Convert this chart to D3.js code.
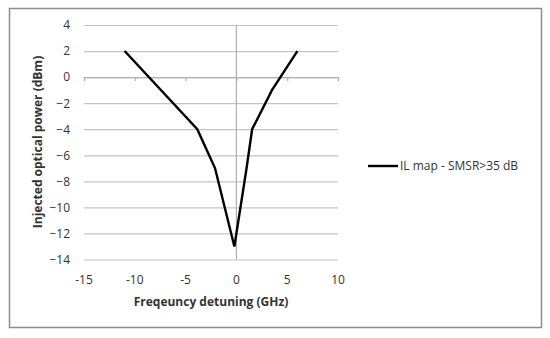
<!DOCTYPE html>
<html>
<head>
<meta charset="utf-8">
<script src="https://cdn.jsdelivr.net/npm/d3@7"></script>
<style>
  body { margin: 0; background: #fff; }
  text { font-family: "Open Sans", sans-serif; fill: #333; }
</style>
</head>
<body>
<script>
// data
const detuning = [-11, -3.85, -2.1, -0.2, 1.0, 1.55, 3.5, 6];
const power    = [2, -4, -7, -13, -7, -4, -1, 2];
const xTicks = [-15, -10, -5, 0, 5, 10];
const yTicks = [4, 2, 0, -2, -4, -6, -8, -10, -12, -14];
const seriesName = "IL map - SMSR>35 dB";

const W = 550, H = 338;
const svg = d3.select("body").append("svg")
  .attr("width", W)
  .attr("height", H);

// chart border
svg.append("rect")
  .attr("x", 9.5).attr("y", 8.5)
  .attr("width", 532).attr("height", 319)
  .attr("fill", "#fff")
  .attr("stroke", "#8c8c8c")
  .attr("stroke-width", 1.5);

const x = d3.scaleLinear().domain([-15, 10]).range([84, 338]);
const y = d3.scaleLinear().domain([-14, 4]).range([259.5, 25]);

// horizontal gridlines + y labels
const yAxis = svg.append("g")
  .attr("transform", "translate(" + x(-15) + ",0)")
  .call(d3.axisLeft(y).tickValues(yTicks).tickSize(-(x(10) - x(-15))).tickPadding(14));
yAxis.select(".domain").remove();
yAxis.selectAll("line").attr("stroke", "#c4c4c4").attr("stroke-width", 1.2);
yAxis.selectAll("text").attr("font-size", 12).attr("fill", "#333");

// vertical axis line at x = 0
svg.append("line")
  .attr("x1", x(0)).attr("x2", x(0))
  .attr("y1", y(4)).attr("y2", y(-14))
  .attr("stroke", "#b0b0b0").attr("stroke-width", 1.2);

// horizontal axis at y = 0 with tick marks
const xAxis = svg.append("g")
  .attr("transform", "translate(0," + y(0) + ")")
  .call(d3.axisBottom(x).tickValues(xTicks).tickSize(4).tickFormat(""));
xAxis.selectAll("path, line").attr("stroke", "#b0b0b0").attr("stroke-width", 1.2);

// x tick labels at the bottom
svg.append("g").selectAll("text")
  .data(xTicks)
  .enter()
  .append("text")
  .attr("x", (d) => x(d))
  .attr("y", 284)
  .attr("text-anchor", "middle")
  .attr("font-size", 12)
  .text((d) => d);

// the line
const line = d3.line()
  .x((d, i) => x(detuning[i]))
  .y((d) => y(d));

svg.append("path")
  .datum(power)
  .attr("d", line)
  .attr("fill", "none")
  .attr("stroke", "#000")
  .attr("stroke-width", 2.4)
  .attr("stroke-linejoin", "miter");

// axis titles
svg.append("text")
  .attr("x", (x(-15) + x(10)) / 2)
  .attr("y", 306)
  .attr("text-anchor", "middle")
  .attr("font-size", 12)
  .attr("font-weight", "bold")
  .text("Freqeuncy detuning (GHz)");

svg.append("text")
  .attr("transform", "translate(42,142) rotate(-90)")
  .attr("text-anchor", "middle")
  .attr("font-size", 12)
  .attr("font-weight", "bold")
  .text("Injected optical power (dBm)");

// legend
svg.append("line")
  .attr("x1", 368).attr("x2", 398)
  .attr("y1", 166).attr("y2", 166)
  .attr("stroke", "#000").attr("stroke-width", 2.4);
svg.append("text")
  .attr("x", 400)
  .attr("y", 170)
  .attr("font-size", 12)
  .text(seriesName);
</script>
</body>
</html>
